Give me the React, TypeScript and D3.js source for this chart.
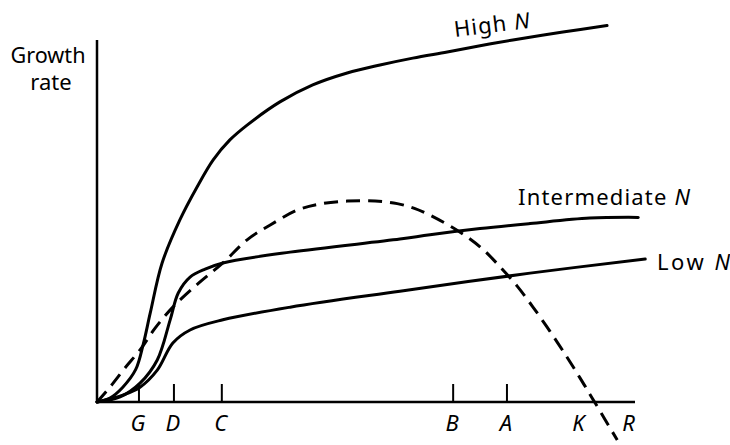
import React from "react";
import * as d3 from "d3";

// Resource level (x) vs growth rate (y), arbitrary units 0..100
const highN: [number, number][] = [
  [0, 0], [2.4, 1.1], [4.8, 4.1], [7.2, 9.0], [8.6, 16.0], [9.9, 24.6], [12.1, 38.4],
  [15.4, 50.3], [18.6, 59.4], [21.6, 66.9], [24.7, 72.4], [27.9, 76.5], [34.0, 82.9],
  [40.1, 87.6], [46.5, 90.9], [52.6, 93.1], [58.7, 95.0], [65.1, 96.7], [71.2, 98.4],
  [77.3, 100.0], [86.6, 102.2], [94.8, 104.0],
];
const intermediateN: [number, number][] = [
  [0, 0], [4.3, 1.4], [8.0, 5.2], [11.2, 11.6], [13.6, 22.7], [15.1, 30.1], [17.3, 34.5],
  [20.1, 36.7], [23.4, 38.4], [35.9, 41.4], [56.3, 45.0], [61.9, 46.2], [71.2, 47.9],
  [80.5, 49.3], [91.6, 50.8], [100.6, 51.0],
];
const lowN: [number, number][] = [
  [0, 0], [4.8, 1.9], [8.0, 4.1], [11.2, 8.8], [14.1, 16.3], [17.3, 19.9], [23.4, 22.7],
  [35.9, 26.2], [56.3, 30.6], [80.5, 35.6], [101.9, 39.5],
];
const mortality: [number, number][] = [
  [0, 0], [2.4, 4.1], [5.2, 9.4], [8.0, 14.4], [10.8, 20.4], [14.1, 26.2], [19.1, 33.1],
  [23.4, 38.4], [27.9, 44.8], [32.2, 48.9], [37.2, 53.0], [41.4, 54.7], [46.5, 55.5],
  [51.7, 55.5], [55.8, 54.8], [59.0, 53.5], [61.9, 51.6], [67.5, 46.9], [71.7, 42.2],
  [75.5, 36.4], [78.1, 32.0], [81.0, 26.3], [84.2, 19.5], [87.4, 12.3], [89.8, 6.6],
  [92.0, 1.2], [96.7, -10.5],
];
const tickValues = [7.8, 14.3, 23.2, 66.2, 76.2];
const tickLabels = ["G", "D", "C", "B", "A"];
const extraLabels = ["K", "R"];
const extraPositions = [89.5, 98.8];

const W = 730;
const H = 445;
const x = d3.scaleLinear().domain([0, 100]).range([97, 635]);
const y = d3.scaleLinear().domain([0, 100]).range([402, 40]);

const line = d3
  .line<[number, number]>()
  .x((d) => x(d[0]))
  .y((d) => y(d[1]))
  .curve(d3.curveCatmullRom.alpha(0.5));

const FONT = "'Noto Sans', sans-serif";

export default function App() {
  const labelStyle: React.CSSProperties = { fontFamily: FONT, fontSize: 22 };
  return (
    <svg
      width={W}
      height={H}
      style={{ position: "absolute", left: 0, top: 0, background: "#fff" }}
    >
      <g fill="none" stroke="#000" strokeLinecap="round" strokeLinejoin="round">
        <path d={line(highN) || ""} strokeWidth={3} />
        <path d={line(intermediateN) || ""} strokeWidth={3} />
        <path d={line(lowN) || ""} strokeWidth={3} />
        <path d={line(mortality) || ""} strokeWidth={3} strokeDasharray="14 8" strokeLinecap="butt" />
      </g>
      {/* axes */}
      <g stroke="#000" strokeWidth={2.5}>
        <line x1={x(0)} y1={y(0)} x2={x(100)} y2={y(0)} />
        <line x1={x(0)} y1={y(0)} x2={x(0)} y2={y(100)} />
        {tickValues.map((v, i) => (
          <line key={i} x1={x(v)} x2={x(v)} y1={y(0)} y2={y(0) - 18} strokeWidth={2} />
        ))}
      </g>
      <g style={labelStyle} fontStyle="italic" textAnchor="middle">
        {tickLabels.map((t, i) => (
          <text key={t} x={x(tickValues[i]) - 1} y={431}>{t}</text>
        ))}
        {extraLabels.map((t, i) => (
          <text key={t} x={x(extraPositions[i])} y={431}>{t}</text>
        ))}
      </g>
      <g style={labelStyle}>
        <text x={48} y={63} textAnchor="middle" textLength={75} lengthAdjust="spacingAndGlyphs">Growth</text>
        <text x={51} y={90} textAnchor="middle">rate</text>
        <text x={455} y={37} transform="rotate(-7 455 37)" textLength={76}>
          High <tspan fontStyle="italic">N</tspan>
        </text>
        <text x={518} y={205} textLength={172}>
          Intermediate <tspan fontStyle="italic">N</tspan>
        </text>
        <text x={657} y={270} textLength={73}>
          Low <tspan fontStyle="italic">N</tspan>
        </text>
      </g>
    </svg>
  );
}
